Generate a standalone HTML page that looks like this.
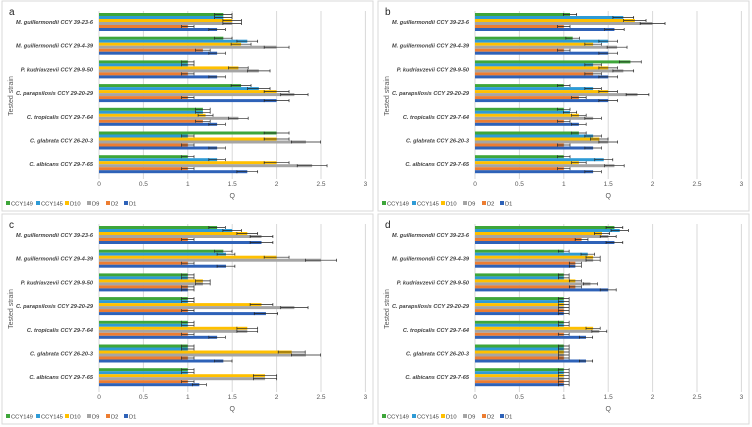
<!DOCTYPE html>
<html><head><meta charset="utf-8"><style>
html,body{margin:0;padding:0;background:#fff;}
svg{display:block;font-family:"Liberation Sans",sans-serif;}
</style></head><body>
<svg id="chart" width="752" height="427" viewBox="0 0 752 427"></svg>
<script>
const categories=["M. guillermondii CCY 39-23-6","M. guillermondii CCY 29-4-39","P. kudriavzevii CCY 29-9-50","C. parapsilosis CCY 29-20-29","C. tropicalis CCY 29-7-64","C. glabrata CCY 26-20-3","C. albicans CCY 29-7-65"];
const seriesNames=["CCY149","CCY145","D10","D9","D2","D1"];
const ticks=[0,0.5,1,1.5,2,2.5,3];
const panelLetters=["a","b","c","d"];
// values[category][series] in order CCY149,CCY145,D10,D9,D2,D1
const panelA=[[1.4,1.4,1.5,1.5,1.0,1.33],[1.4,1.67,1.6,2.0,1.17,1.33],[1.0,1.0,1.57,1.8,1.0,1.33],[1.6,1.8,2.0,2.2,1.0,2.0],[1.17,1.17,1.2,1.57,1.17,1.33],[2.0,1.0,2.0,2.33,1.0,1.33],[1.0,1.33,2.0,2.4,1.0,1.67]];
const panelB=[[1.07,1.67,1.8,2.0,1.0,1.57],[1.1,1.5,1.33,1.6,1.0,1.5],[1.75,1.33,1.5,1.67,1.33,1.5],[1.0,1.33,1.5,1.83,1.17,1.5],[1.0,1.07,1.17,1.33,1.0,1.17],[1.17,1.33,1.4,1.5,1.0,1.33],[1.0,1.45,1.17,1.57,1.0,1.33]];
const panelC=[[1.33,1.5,1.67,1.83,1.0,1.83],[1.4,1.43,2.0,2.5,1.0,1.43],[1.0,1.0,1.17,1.17,1.0,1.0],[1.0,1.0,1.83,2.2,1.0,1.88],[1.0,1.0,1.67,1.67,1.0,1.33],[1.0,1.0,2.17,2.33,1.0,1.4],[1.0,1.0,1.87,1.87,1.0,1.13]];
const panelD=[[1.57,1.63,1.43,1.5,1.2,1.57],[1.0,1.27,1.33,1.33,1.13,1.13],[1.0,1.0,1.13,1.3,1.13,1.5],[1.0,1.0,1.0,1.0,1.0,1.0],[1.0,1.0,1.33,1.4,1.0,1.25],[1.0,1.0,1.0,1.0,1.0,1.25],[1.0,1.0,1.0,1.0,1.0,1.0]];
const errA=0.07,errB=0.07,errC=0.07,errD=0.06;

const panels=[panelA,panelB,panelC,panelD];
const errs=[errA,errB,errC,errD];
const colors=["#3ea63a","#2e9bd6","#ffc000","#a5a5a5","#ed7d31","#2e62b8"];
const NS="http://www.w3.org/2000/svg";
const svg=document.getElementById("chart");
function mk(t,a,p){const e=document.createElementNS(NS,t);for(const k in a)e.setAttribute(k,a[k]);(p||svg).appendChild(e);return e;}
const origins=[[0,0],[376,0],[0,213],[376,213]];
panels.forEach((data,pi)=>{
  const [ox,oy]=origins[pi];
  const g=mk("g",{transform:`translate(${ox},${oy})`});
  
  
  const bg=mk("rect",{x:2,y:1,width:371,height:210,fill:"#fff",stroke:"#d9d9d9","stroke-width":1},g);
  
  
  const x0=99,unit=88.8,top=13,step=23.7,bh=3,bottom=179;
  const X=v=>x0+v*unit;
  ticks.forEach(t=>{
    if(t>0){const l=mk("line",{x1:X(t),x2:X(t),y1:top-2,y2:bottom,stroke:"#d9d9d9","stroke-width":1},g);
    
    }
    const tx=mk("text",{x:X(t),y:bottom+7,"font-size":6.5,"text-anchor":"middle",fill:"#595959"},g);
    tx.textContent=t;
    
    
  });
  const ax=mk("line",{x1:x0,x2:x0,y1:top-2,y2:bottom,stroke:"#d9d9d9"},g);
  
  
  categories.forEach((c,ci)=>{
    const gy=top+ci*step;
    data[ci].forEach((v,si)=>{
      const y=gy+si*bh;
      const r=mk("rect",{x:x0,y:y,width:X(v)-x0,height:bh,fill:colors[si]},g);
      
      
      const e=errs[pi]*v;
      const el=mk("path",{d:`M${X(v-e)},${y+bh/2}H${X(v+e)}M${X(v-e)},${y}V${y+bh}M${X(v+e)},${y}V${y+bh}`,stroke:"#222","stroke-width":0.7,fill:"none"},g);
      
      
    });
    const lt=mk("text",{x:93,y:gy+11,"font-size":5.6,"font-style":"italic","font-weight":"bold","text-anchor":"end",fill:"#404040"},g);
    lt.textContent=c;
    
    
  });
  const q=mk("text",{x:X(1.5),y:bottom+19,"font-size":7,"text-anchor":"middle",fill:"#595959"},g);
  q.textContent="Q";
  
  
  const yt=mk("text",{x:0,y:0,"font-size":7,"text-anchor":"middle",fill:"#595959",transform:`translate(13,${(top+bottom)/2}) rotate(-90)`},g);
  yt.textContent="Tested strain";
  
  
  const pl=mk("text",{x:9,y:15,"font-size":10,fill:"#222"},g);
  pl.textContent=panelLetters[pi];
  
  
  let lx=6;
  const legW=[30,29,22,19,18,16];
  seriesNames.forEach((n,si)=>{
    const sw=mk("rect",{x:lx,y:201,width:4,height:4,fill:colors[si]},g);
    
    
    const lt2=mk("text",{x:lx+5,y:205.5,"font-size":5.8,fill:"#404040"},g);
    lt2.textContent=n;
    
    
    lx+=legW[si];
  });
});
</script>
</body></html>
